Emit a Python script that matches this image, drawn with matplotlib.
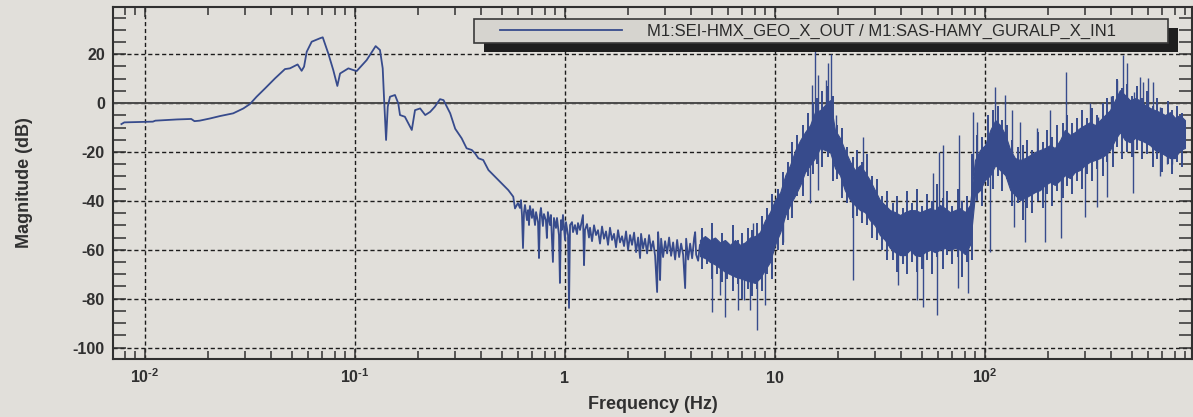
import matplotlib
matplotlib.use("Agg")
import matplotlib.pyplot as plt
from matplotlib.patches import Rectangle
from matplotlib.lines import Line2D
from matplotlib.ticker import FixedLocator, LogLocator, MultipleLocator, NullFormatter

# ==============================
# DATOS
# ==============================

etiqueta = "M1:SEI-HMX_GEO_X_OUT / M1:SAS-HAMY_GURALP_X_IN1"

# tramo suave, baja frecuencia (Hz, dB)
lf_freq = [0.00772, 0.00797, 0.0109, 0.0112, 0.0142, 0.0166, 0.0172, 0.0182, 0.0204, 0.0228,
           0.0263, 0.0294, 0.0316, 0.0340, 0.0373, 0.0416, 0.0464, 0.0490, 0.0533, 0.0557,
           0.0572, 0.0589, 0.0622, 0.0681, 0.0702, 0.0746, 0.0788, 0.0824, 0.0849, 0.0930,
           0.0982, 0.1019, 0.1137, 0.1254, 0.1315, 0.1355, 0.1374, 0.1406, 0.1432, 0.1468,
           0.155, 0.1607, 0.1638, 0.1728, 0.1864, 0.1931, 0.2043, 0.216, 0.228, 0.240,
           0.254, 0.264, 0.284, 0.300, 0.322, 0.340, 0.360, 0.373, 0.387, 0.408,
           0.432, 0.473, 0.509, 0.537, 0.567, 0.578]
lf_mag = [-8.6, -7.9, -7.6, -7.2, -6.7, -6.5, -7.4, -7.2, -6.3, -5.3,
          -4.2, -2.2, -0.4, 2.6, 6.0, 10.1, 13.9, 14.2, 15.8, 13.2,
          14.9, 21.0, 25.1, 26.5, 26.9, 20.3, 13.5, 7.0, 12.1, 14.2,
          13.5, 13.1, 17.6, 23.3, 21.7, 14.2, 2.6, -15.1, -1.5, 2.6,
          3.3, -0.1, -4.9, -5.6, -11.0, -2.9, -2.2, -4.9, -3.6, -1.5,
          1.6, 1.2, -4.2, -10.5, -14.4, -18.5, -19.2, -20.6, -22.6, -23.3,
          -27.4, -30.8, -33.5, -35.6, -38.3, -43.1]

# tramo ruidoso 0.6 - 4.4 Hz
mid_freq = [0.597, 0.610, 0.617, 0.624, 0.631, 0.638, 0.645, 0.659, 0.667, 0.674,
            0.681, 0.696, 0.704, 0.720, 0.728, 0.744, 0.752, 0.760, 0.768, 0.785,
            0.794, 0.811, 0.820, 0.829, 0.848, 0.857, 0.876, 0.886, 0.906, 0.916,
            0.936, 0.946, 0.957, 0.967, 0.978, 1.000, 1.011, 1.034, 1.045, 1.057,
            1.080, 1.092, 1.116, 1.141, 1.153, 1.179, 1.192, 1.218, 1.232, 1.245,
            1.273, 1.301, 1.316, 1.345, 1.375, 1.405, 1.436, 1.468, 1.501, 1.534,
            1.568, 1.603, 1.638, 1.675, 1.712, 1.750, 1.789, 1.828, 1.869, 1.911,
            1.953, 1.997, 2.041, 2.086, 2.133, 2.180, 2.229, 2.278, 2.303, 2.354,
            2.406, 2.460, 2.514, 2.570, 2.627, 2.686, 2.746, 2.776, 2.806, 2.837,
            2.869, 2.932, 2.997, 3.064, 3.132, 3.201, 3.273, 3.345, 3.420, 3.496,
            3.573, 3.653, 3.734, 3.775, 3.859, 3.944, 4.032, 4.121, 4.167, 4.213,
            4.306, 4.390]
mid_mag = [-40.9, -42.9, -39.7, -45.8, -59.3, -44.6, -41.7, -47.9, -43.8, -49.9,
           -42.1, -47.0, -43.4, -49.9, -44.6, -48.7, -63.4, -45.8, -42.9, -50.3,
           -45.4, -47.9, -55.2, -44.6, -49.9, -45.8, -65.0, -47.0, -51.1, -47.0,
           -54.0, -73.6, -47.9, -51.9, -45.8, -56.0, -48.7, -54.0, -83.8, -49.9,
           -48.7, -52.8, -49.9, -53.6, -49.1, -51.9, -49.9, -45.8, -66.3, -51.9,
           -49.5, -55.0, -51.0, -56.5, -50.0, -54.0, -52.0, -57.5, -50.5, -55.5,
           -52.5, -58.0, -51.0, -56.0, -53.5, -59.0, -52.0, -57.0, -54.5, -58.5,
           -52.5, -60.0, -54.0, -58.0, -53.0, -61.0, -55.0, -63.4, -53.5, -59.5,
           -55.5, -61.5, -54.0, -60.0, -56.5, -62.5, -77.3, -52.8, -59.5, -72.4,
           -55.5, -63.0, -56.5, -61.5, -55.0, -62.5, -57.0, -64.0, -56.0, -63.0,
           -57.5, -62.0, -75.7, -55.5, -64.0, -57.5, -63.5, -55.2, -52.8, -62.0,
           -64.5, -58.1]

# banda densa 4.4 - 900 Hz: borde superior e inferior
hf_freq = [4.39, 4.64, 4.90, 5.18, 5.47, 5.78, 6.11, 6.45, 6.81, 7.20,
           7.60, 8.03, 8.48, 8.96, 9.47, 10.0, 10.6, 11.2, 11.8, 12.5,
           13.2, 13.9, 14.7, 15.5, 16.4, 17.3, 18.3, 19.3, 20.4, 21.5,
           22.8, 24.0, 25.4, 26.8, 28.3, 29.9, 31.6, 33.4, 35.3, 37.3,
           39.4, 41.6, 43.9, 46.4, 49.0, 51.8, 54.7, 57.8, 61.1, 64.5,
           68.1, 72.0, 76.0, 80.3, 84.8, 89.6, 94.7, 100, 106, 112,
           118, 125, 132, 139, 147, 155, 164, 173, 183, 193,
           204, 215, 228, 240, 254, 268, 283, 299, 316, 334,
           353, 373, 394, 416, 439, 464, 490, 518, 547, 578,
           611, 645, 681, 720, 760, 803, 848, 896]
hf_hi = [-56, -54.4, -56, -55, -57, -56, -58, -56, -58, -57,
         -55, -54.4, -52.8, -48, -44.6, -39.7, -36.4, -29.5, -25.4, -19.2,
         -15.1, -11.9, -9, -3.7, -2.9, -0.8, 1.2, -11, -14.3, -19.2,
         -24, -27.4, -25.4, -28.2, -31.5, -35.6, -39.7, -41.7, -43.8, -44.6,
         -45.8, -44.6, -43.8, -43.8, -44.6, -43.8, -43, -43.8, -41.7, -43,
         -44.6, -43.8, -43, -44.6, -41.7, -23.3, -19.2, -17.2, -11, -7,
         -9, -13, -19.2, -22.5, -23.3, -22.5, -21.3, -20, -19.2, -18.4,
         -17.2, -18.4, -15.1, -11, -13, -11.9, -10.2, -9, -7.8, -9,
         -7, -4.9, -2.9, 1.2, 5.3, 3.3, 1.2, 2, 1.2, -0.8,
         -2, -2.9, -3.7, -4.9, -3.7, -6, -4.9, -7]
hf_lo = [-62.6, -63.4, -65, -66, -67.5, -69, -70, -71, -71.6, -72.4,
         -73, -73.6, -71.6, -68.3, -65, -58, -52.8, -45.8, -41.7, -37.6,
         -33.5, -28.2, -25.4, -22.5, -18.4, -19.2, -20, -26.6, -29.5, -35.6,
         -39.7, -41.7, -43.8, -44.6, -47.9, -50, -54, -56, -59.3, -61,
         -62.2, -62.2, -60, -62.2, -62.6, -61, -60, -61, -60, -59.3,
         -60, -59.3, -60, -61.8, -58, -37.6, -35.6, -31.5, -29.5, -25.4,
         -27.4, -29.5, -35.6, -37.6, -39.7, -38.8, -37.6, -36.4, -35.6, -33.5,
         -32.3, -33.5, -31.5, -29.5, -30.7, -28.2, -27.4, -25.4, -24, -23.3,
         -22.5, -21.3, -19.2, -15.1, -11.9, -15.1, -16, -14.3, -15.1, -16,
         -17.2, -19.2, -20, -21.3, -22.5, -22.5, -19.2, -18.4]

# trazos que asoman por los bordes de la banda (Hz, dB minimo, dB maximo)
rizo_freq = [4.51, 4.77, 5.04, 5.32, 5.62, 5.94, 6.28, 6.63, 7.00, 7.40,
             7.81, 8.25, 8.71, 9.21, 9.73, 10.3, 10.9, 11.5, 12.1, 12.8,
             13.6, 14.3, 15.1, 15.9, 16.8, 17.8, 18.8, 19.8, 20.9, 22.1,
             23.4, 24.7, 26.1, 27.5, 29.1, 30.7, 32.5, 34.3, 36.3, 38.3,
             40.5, 42.7, 45.1, 47.7, 50.4, 53.2, 56.2, 59.4, 62.8, 66.3,
             70.0, 74.0, 78.1, 82.5, 87.2, 92.1, 97.3, 103, 109, 115,
             121, 128, 135, 143, 151, 159, 168, 178, 188, 198,
             209, 221, 234, 247, 261, 275, 291, 307, 325, 343,
             363, 383, 405, 427, 451, 477, 504, 532, 562, 594,
             628, 663, 700, 740, 781, 825, 872]
rizo_hi = [-51, -55, -49, -56, -53, -57, -50, -56, -53, -51,
           -52, -49, -46, -43, -37, -35, -28, -24, -16, -13,
           -9, -4, 0, 2, 5, 7, 3, -9, -10, -18,
           -22, -19, -24, -21, -30, -31, -38, -36, -41, -38,
           -43, -36, -41, -35, -42, -37, -40, -33, -39, -36,
           -42, -35, -40, -38, -21, -13, -14, -5, -3, -1,
           -7, -9, -15, -18, -17, -15, -19, -12, -16, -11,
           -14, -9, -8, -5, -8, -6, -3, -6, -2, -5,
           0, 2, 3, 10, 6, 8, 3, 7, 2, 5,
           -1, 2, -2, 1, -3, -1, -4]
rizo_lo = [-68, -66, -72, -70, -73, -72, -77, -74, -80, -76,
           -79, -76, -77, -70, -72, -60, -58, -48, -47, -38,
           -38, -30, -29, -25, -26, -22, -32, -31, -39, -41,
           -47, -46, -49, -50, -55, -56, -60, -64, -64, -69,
           -66, -70, -65, -69, -68, -64, -70, -63, -68, -62,
           -66, -63, -71, -65, -64, -40, -42, -34, -35, -30,
           -36, -31, -42, -41, -48, -43, -45, -40, -43, -37,
           -42, -36, -39, -34, -37, -32, -35, -29, -32, -27,
           -30, -24, -26, -18, -23, -20, -22, -19, -23, -21,
           -26, -23, -28, -25, -29, -24, -26]

# picos sueltos (Hz, dB minimo, dB maximo)
pico_freq = [5.02, 5.47, 5.78, 6.66, 7.12, 7.60, 7.86, 8.25, 8.96, 10.9,
             14.7, 15.0, 15.5, 16.0, 17.5, 17.8, 18.5, 19.5, 23.4, 26.3,
             38.5, 47.4, 50.7, 56.8, 59.3, 60.6, 63.1, 74.5, 75.3, 83.2,
             88.0, 92.1, 106, 112, 125, 135, 137, 147, 155, 177,
             193, 204, 230, 243, 274, 299, 316, 341, 345, 381,
             398, 427, 453, 475, 507, 512, 547, 567, 600, 634,
             681, 737, 781]
pico_lo = [-85.5, -78.5, -87.5, -84.7, -80.6, -84.7, -70, -93, -82.6, -57,
           -41, -15, -10, -35.6, -15, -10, -10, -25, -72.4, -35,
           -74.4, -80.6, -83.4, -50, -86.7, -50, -50, -75.7, -45, -77.7,
           -30, -30, -61, -15, -20, -25, -50.7, -30, -57, -30,
           -57, -25, -55, -20, -25, -46.6, -15, -42.5, -15, -38.4,
           -10, -10, -10, -10, -36.8, -10, -10, -10, -10, -10,
           -30, -25, -25]
pico_hi = [-58, -60, -58, -60, -60, -58, -49, -60, -55, -40,
           -20, 7.4, 21.5, 11.5, 9.4, 16.4, 20.0, -5, -28, -14,
           -48, -50, -50, -28.6, -50, -20, -17, -50, -13, -50,
           -3.7, -7.8, -20, 6.5, 3.3, -2.9, -30, -7.8, -30, -10,
           -30, -2.9, -25, 12.7, -10, -20, 0, -15, -5.7, -8,
           2.9, 9.4, 19.6, 16.4, -5, 4.5, 10.6, 8.6, 10.2, 8.6,
           -1.6, -4.9, -4.9]

xticks = [0.01, 0.1, 1, 10, 100]
xtick_labels = [r"$10^{\text{-}2}$", r"$10^{\text{-}1}$", "1", "10", "$10^{2}$"]
yticks = [-100, -80, -60, -40, -20, 0, 20]
ytick_labels = ["-100", "-80", "-60", "-40", "-20", "0", "20"]

# ==============================
# ESTILO
# ==============================

plt.rcParams["font.family"] = ["Liberation Sans", "DejaVu Sans"]
plt.rcParams["mathtext.fontset"] = "custom"
plt.rcParams["mathtext.rm"] = "Liberation Sans:bold"
plt.rcParams["mathtext.it"] = "Liberation Sans:bold"
plt.rcParams["mathtext.bf"] = "Liberation Sans:bold"
plt.rcParams["mathtext.default"] = "rm"

fondo = "#e1dfda"
azul = "#374b8c"
gris = "#303030"

W, H = 1193, 417

fig = plt.figure(figsize=(W / 100, H / 100), dpi=100, facecolor=fondo)
ax = fig.add_axes([113 / W, 1 - 359 / H, 1079 / W, 352 / H])
ax.set_facecolor(fondo)
ax.set_xscale("log")

# ==============================
# GRAFICA
# ==============================

ax.plot(lf_freq + mid_freq, lf_mag + mid_mag, color=azul, lw=1.3, zorder=3)
ax.fill_between(hf_freq, hf_lo, hf_hi, color=azul, lw=0.8, zorder=3)
ax.vlines(rizo_freq, rizo_lo, rizo_hi, color=azul, lw=1.4, zorder=3)
ax.vlines(pico_freq, pico_lo, pico_hi, color=azul, lw=1.0, zorder=3)

ax.set_xlim(0.00704, 968)
ax.set_ylim(-104.7, 39.3)

ax.xaxis.set_major_locator(FixedLocator(xticks))
ax.xaxis.set_minor_locator(LogLocator(base=10, subs=range(2, 10)))
ax.xaxis.set_minor_formatter(NullFormatter())
ax.set_xticklabels(xtick_labels)
ax.set_yticks(yticks)
ax.set_yticklabels(ytick_labels)
ax.yaxis.set_minor_locator(MultipleLocator(5))

ax.tick_params(which="both", direction="in", top=True, right=True,
               color=gris, width=1.1, labelcolor=gris, labelsize=11.5)
ax.tick_params(axis="y", which="both", length=9.4, pad=5.8)
ax.tick_params(axis="x", which="major", length=7.5, pad=17)
ax.tick_params(axis="x", which="minor", length=5.6)
for lbl in ax.get_xticklabels() + ax.get_yticklabels():
    lbl.set_fontweight("bold")
for lbl in ax.get_xticklabels():
    lbl.set_va("baseline")

for s in ax.spines.values():
    s.set_color(gris)
    s.set_linewidth(1.5)

ax.set_axisbelow(True)
ax.grid(True, which="major", color="#1c1c1c", linestyle=(0, (3, 2)), linewidth=1.0)
ax.axhline(0, color="#4a4a4a", lw=1.4, zorder=1)

ax.set_xlabel("Frequency (Hz)", fontsize=13, fontweight="bold", color=gris)
ax.set_ylabel("Magnitude (dB)", fontsize=13, fontweight="bold", color=gris)
ax.xaxis.set_label_coords(0.5, -0.105)
ax.yaxis.set_label_coords(-0.074, 0.5)

# leyenda con sombra, como en diaggui
fig.add_artist(Rectangle((484 / W, 1 - 52 / H), 694 / W, 24 / H, transform=fig.transFigure,
                         facecolor="#1e1e1e", edgecolor="none", zorder=5))
fig.add_artist(Rectangle((474 / W, 1 - 43 / H), 694 / W, 24 / H, transform=fig.transFigure,
                         facecolor="#d6d4cf", edgecolor="#3a3a3a", lw=1.2, zorder=6))
fig.add_artist(Line2D([500 / W, 622 / W], [1 - 30 / H, 1 - 30 / H], transform=fig.transFigure,
                      color=azul, lw=1.3, zorder=7))
fig.text(647 / W, 1 - 31 / H, etiqueta, fontsize=12, color="#2a2a2a", va="center",
         ha="left", zorder=7)

fig.savefig("out.png", dpi=100, facecolor=fondo)
